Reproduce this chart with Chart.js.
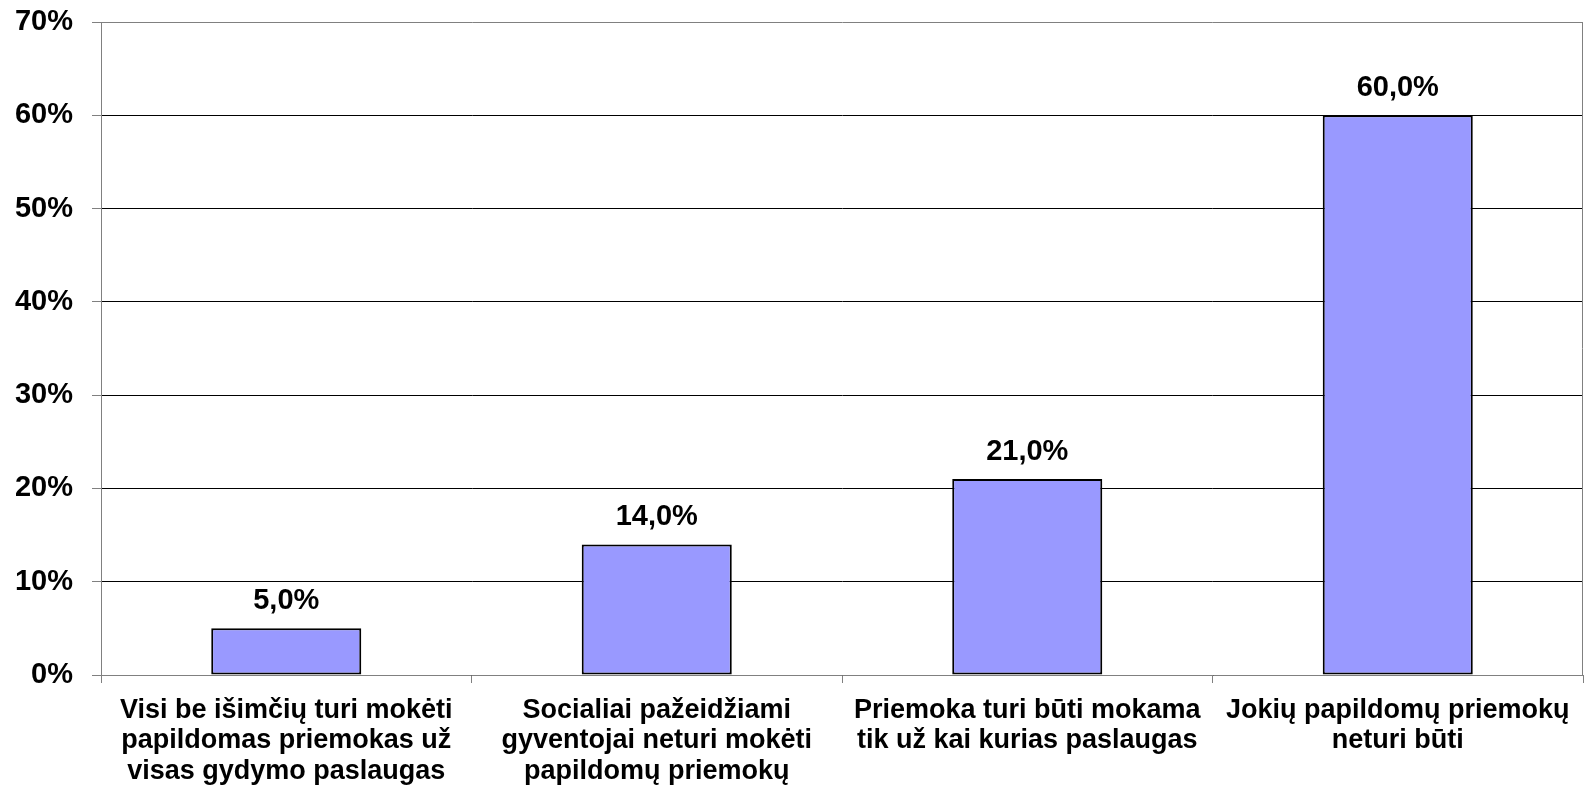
<!DOCTYPE html>
<html>
<head>
<meta charset="utf-8">
<script src="https://cdn.jsdelivr.net/npm/chart.js@4.4.1/dist/chart.umd.min.js"></script>
<style>
  html, body { margin: 0; padding: 0; background: #fff; }
  #wrap { width: 1584px; height: 785px; }
</style>
</head>
<body>
<div id="wrap"><canvas id="Atsakymai"></canvas></div>
<script>
const categories = [
    ['Visi be išimčių turi mokėti', 'papildomas priemokas už', 'visas gydymo paslaugas'],
    ['Socialiai pažeidžiami', 'gyventojai neturi mokėti', 'papildomų priemokų'],
    ['Priemoka turi būti mokama', 'tik už kai kurias paslaugas'],
    ['Jokių papildomų priemokų', 'neturi būti']
];
const values = [5, 14, 21, 60];
const yMax = 70;
const yStep = 10;

const FONT = 'Liberation Sans, Arial, sans-serif';

// value labels above the bars + grey frame on the right side
const barLabels = {
    id: 'barLabels',
    afterDatasetsDraw(chart) {
        const ctx = chart.ctx;
        const meta = chart.getDatasetMeta(0);
        ctx.save();
        ctx.font = 'bold 29px ' + FONT;
        ctx.fillStyle = '#000';
        ctx.textAlign = 'center';
        ctx.textBaseline = 'alphabetic';
        meta.data.forEach((bar, i) => {
            const txt = values[i].toFixed(1).replace('.', ',') + '%';
            ctx.fillText(txt, bar.x, bar.y - 19);
        });
        ctx.restore();
    },
    afterDraw(chart) {
        const ctx = chart.ctx;
        const a = chart.chartArea;
        ctx.save();
        ctx.strokeStyle = '#808080';
        ctx.lineWidth = 1;
        ctx.beginPath();
        ctx.moveTo(a.right - 0.5, a.top);
        ctx.lineTo(a.right - 0.5, a.bottom);
        ctx.stroke();
        ctx.restore();
    }
};

const atx = document.getElementById('Atsakymai').getContext('2d');
const Atsakymai = new Chart(atx, {
    type: 'bar',
    data: {
        labels: categories,
        datasets: [{
            data: values,
            backgroundColor: '#9999FF',
            borderColor: '#000000',
            borderWidth: 2,
            borderSkipped: false,
            barPercentage: 0.405,
            categoryPercentage: 1
        }]
    },
    plugins: [barLabels],
    options: {
        responsive: true,
        maintainAspectRatio: false,
        animation: false,
        layout: { padding: { top: 22, right: 1, left: 0, bottom: 0 } },
        plugins: {
            legend: { display: false },
            tooltip: { enabled: false }
        },
        scales: {
            x: {
                offset: true,
                grid: {
                    offset: true,
                    drawOnChartArea: false,
                    tickLength: 8,
                    color: '#808080'
                },
                border: { color: '#808080', width: 1 },
                ticks: {
                    color: '#000',
                    padding: 12,
                    maxRotation: 0,
                    autoSkip: false,
                    font: { family: FONT, size: 27, weight: 'bold', lineHeight: 1.13 }
                },
                afterFit(scale) {
                    scale.height = 110;
                    scale.paddingLeft = 0;
                    scale.paddingRight = 0;
                }
            },
            y: {
                min: 0,
                max: yMax,
                grid: {
                    color: (c) => (c.tick && c.tick.value === yMax) ? '#808080' : '#000000',
                    tickColor: '#808080',
                    tickLength: 9,
                    lineWidth: 1
                },
                border: { color: '#808080', width: 1 },
                ticks: {
                    stepSize: yStep,
                    color: '#000',
                    padding: 19,
                    font: { family: FONT, size: 29, weight: 'bold' },
                    callback: (v) => v + '%'
                },
                afterFit(scale) {
                    scale.width = 101;
                    scale.paddingTop = 0;
                    scale.paddingBottom = 0;
                }
            }
        }
    }
});
</script>
</body>
</html>
